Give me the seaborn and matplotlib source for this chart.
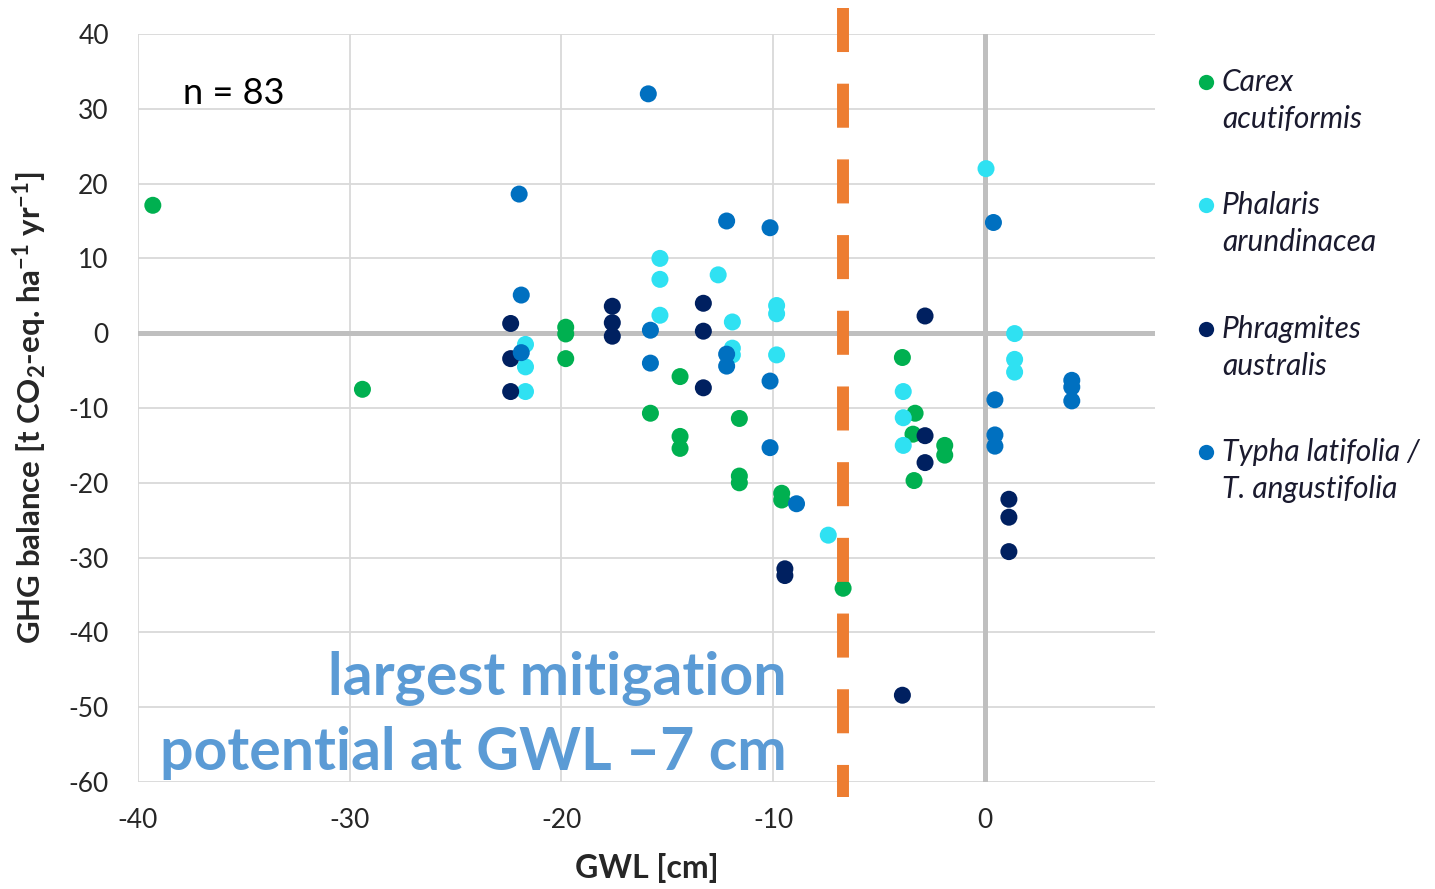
import numpy as np
import pandas as pd
import matplotlib
matplotlib.use("Agg")
import matplotlib.pyplot as plt
from matplotlib.lines import Line2D
import seaborn as sns

# ---------------- data ----------------
species = ["Carex acutiformis", "Phalaris arundinacea", "Phragmites australis",
           "Typha latifolia / T. angustifolia"]
legend_labels = ["Carex\nacutiformis", "Phalaris\narundinacea", "Phragmites\naustralis",
                 "Typha latifolia /\nT. angustifolia"]
colors = ["#00B050", "#2FE1F2", "#002060", "#0070C0"]

carex_x = [-39.3, -29.4, -19.8, -19.8, -19.8, -14.4, -15.8, -14.4, -14.4, -11.6, -11.6,
           -11.6, -9.6, -9.6, -6.7, -3.9, -3.3, -3.4, -1.9, -1.9, -3.35]
carex_y = [17.1, -7.5, 0.8, -0.1, -3.4, -5.8, -10.7, -13.8, -15.4, -11.4, -19.1,
           -20.0, -21.4, -22.3, -34.1, -3.25, -10.7, -13.5, -15.0, -16.3, -19.7]

phalaris_x = [-15.35, -15.35, -15.35, -12.6, -11.93, -11.93, -11.93, -9.84, -9.84, -9.84,
              -7.4, -21.7, -21.7, -21.7, 0.05, 1.4, 1.4, 1.4, -3.86, -3.86, -3.86]
phalaris_y = [10.0, 7.2, 2.4, 7.8, 1.5, -2.0, -2.9, 3.7, 2.6, -2.9,
              -27.0, -1.5, -4.5, -7.8, 22.0, -0.05, -3.5, -5.2, -7.8, -11.3, -15.0]

phragmites_x = [-22.4, -22.4, -22.4, -17.6, -17.6, -17.6, -13.3, -13.3, -13.3, -9.45,
                -9.45, -3.9, -2.83, -2.83, -2.83, 1.13, 1.13, 1.13]
phragmites_y = [1.3, -3.4, -7.8, 3.6, 1.4, -0.4, 4.0, 0.27, -7.3, -31.5,
                -32.4, -48.4, 2.3, -13.7, -17.3, -22.2, -24.6, -29.2]

typha_x = [-15.9, -22.0, -21.9, -21.9, -15.8, -15.8, -12.2, -12.2, -10.15, -10.15,
           -8.9, -12.2, -10.15, 0.4, 0.47, 0.47, 0.47, 4.1, 4.1, 4.1]
typha_y = [32.0, 18.6, 5.1, -2.6, 0.4, -4.0, -2.8, -4.4, -6.4, -15.3,
           -22.8, 15.0, 14.1, 14.8, -8.9, -13.6, -15.1, -6.3, -7.2, -9.05]

x_ticks = [-40, -30, -20, -10, 0]
y_ticks = [40, 30, 20, 10, 0, -10, -20, -30, -40, -50, -60]
threshold_gwl = -6.7

# ---------------- style ----------------
sns.set_theme(style="white")
plt.rcParams["font.family"] = ["Lato", "DejaVu Sans"]
plt.rcParams["axes.unicode_minus"] = False
plt.rcParams["mathtext.fontset"] = "custom"
plt.rcParams["mathtext.rm"] = "Lato:bold"
plt.rcParams["mathtext.it"] = "Lato:bold"
plt.rcParams["mathtext.bf"] = "Lato:bold"
plt.rcParams["mathtext.default"] = "rm"
plt.rcParams["lines.scale_dashes"] = False

frames = []
for sp, xs, ys in zip(species, [carex_x, phalaris_x, phragmites_x, typha_x],
                      [carex_y, phalaris_y, phragmites_y, typha_y]):
    frames.append(pd.DataFrame({"GWL": xs, "GHG": ys, "species": sp}))
df = pd.concat(frames, ignore_index=True)

W, H = 1435, 889
fig = plt.figure(figsize=(W / 100, H / 100), dpi=100)
ax = fig.add_axes([138 / W, 1 - 782 / H, (1155 - 138) / W, (782 - 34) / H])

# grid
grid_c = "#D9D9D9"
for yv in y_ticks:
    if yv == 0:
        continue
    ax.axhline(yv, color=grid_c, lw=1.3, zorder=0)
for xv in x_ticks[:-1]:
    ax.axvline(xv, color=grid_c, lw=1.3, zorder=0)
ax.axhline(0, color="#BFBFBF", lw=3.6, zorder=1)
ax.axvline(0, color="#BFBFBF", lw=3.6, zorder=1)

sns.scatterplot(data=df, x="GWL", y="GHG", hue="species", hue_order=species,
                palette=colors, s=150, linewidth=0, legend=False, ax=ax, zorder=3)

ax.set_xlim(-40, 8.03)
ax.set_ylim(-60, 40)
ax.set_xticks(x_ticks)
ax.set_yticks(y_ticks)
ax.set_xticklabels([str(v) for v in x_ticks])
ax.set_yticklabels([str(v) for v in y_ticks])
ax.tick_params(axis="both", length=0, labelsize=19, labelcolor="#262626")
ax.tick_params(axis="x", pad=19)
ax.tick_params(axis="y", pad=21)
for s in ax.spines.values():
    s.set_visible(False)

ax.set_xlabel("GWL [cm]", fontsize=23, fontweight="bold", color="#262626", labelpad=14)
ax.set_ylabel(r"GHG balance [t CO$_2$-eq. ha$^{-1}$ yr$^{-1}$]", fontsize=22.5,
              fontweight="bold", color="#262626", labelpad=14)

# dashed threshold line (extends beyond plot area)
ax.plot([threshold_gwl, threshold_gwl], [43.45, -62.0], color="#ED7D31", lw=8.6,
        linestyle=(0, (31.7, 22.8)), solid_capstyle="butt", dash_capstyle="butt",
        clip_on=False, zorder=4)

# annotations
fig.text(183 / W, 1 - 94 / H, "n = 83", fontsize=26, color="black", va="center", ha="left")
fig.text(787 / W, 1 - 695 / H, "largest mitigation", fontsize=42.5, fontweight="bold",
         color="#5B9BD5", ha="right", va="baseline")
fig.text(787 / W, 1 - 770 / H, "potential at GWL \u20137 cm", fontsize=42.5, fontweight="bold",
         color="#5B9BD5", ha="right", va="baseline")

# legend (manual, marker aligned with first line)
row_y = [82, 205, 329, 452]
for lab, col, py in zip(legend_labels, colors, row_y):
    fig.add_artist(Line2D([1206 / W], [1 - py / H], marker="o", markersize=11,
                          markerfacecolor=col, markeredgewidth=0, linestyle="none",
                          transform=fig.transFigure))
    l1, l2 = lab.split("\n")
    fig.text(1222 / W, 1 - py / H, l1, fontsize=21.5, style="italic",
             color="#1A1A2E", ha="left", va="center")
    fig.text(1222 / W, 1 - (py + 37) / H, l2, fontsize=21.5, style="italic",
             color="#1A1A2E", ha="left", va="center")

fig.savefig("out.png", dpi=100, facecolor="white")
